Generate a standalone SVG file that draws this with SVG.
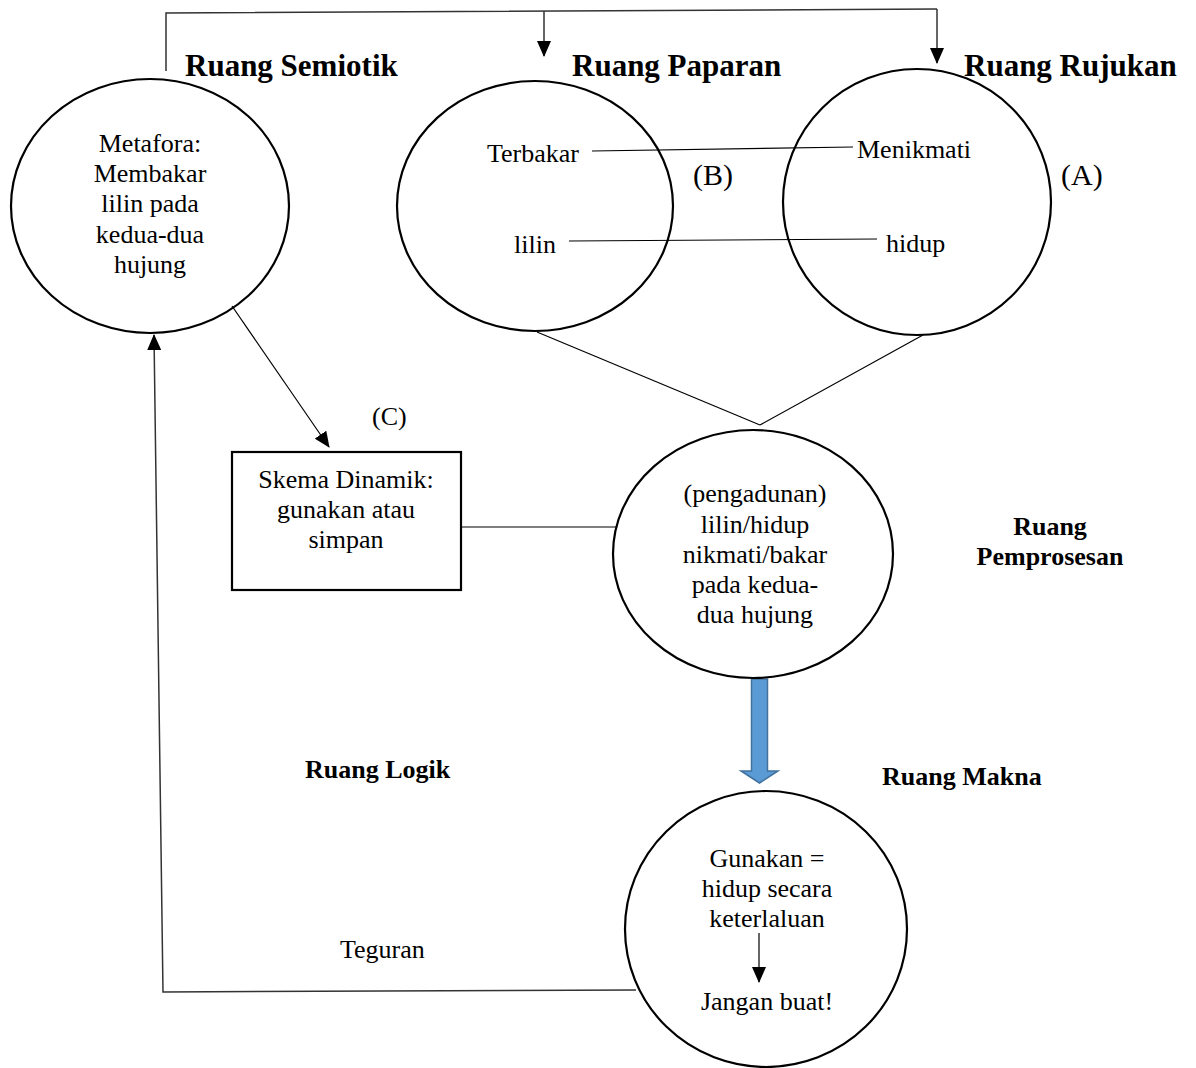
<svg xmlns="http://www.w3.org/2000/svg" width="1196" height="1068" viewBox="0 0 1196 1068">
<style>
.n{fill:none;stroke:#000;stroke-width:2.2}
.t{font-family:"Liberation Serif","Times New Roman",serif;font-size:26px;fill:#000}
.c{text-anchor:middle}
.h{font-family:"Liberation Serif","Times New Roman",serif;font-size:31px;font-weight:bold;fill:#000}
.b{font-family:"Liberation Serif","Times New Roman",serif;font-size:26px;font-weight:bold;fill:#000}
.l{fill:none;stroke:#000;stroke-width:1.2}
.g{fill:none;stroke:#333;stroke-width:1.5}
</style>
<defs>
<marker id="ah" markerWidth="16" markerHeight="14" refX="15" refY="7" orient="auto" markerUnits="userSpaceOnUse">
<path d="M0,0 L16,7 L0,14 Z" fill="#000"/>
</marker>
</defs>
<rect width="1196" height="1068" fill="#fff"/>
<g id="connectors">
<polyline class="g" points="166,71 166,13 937,9"/>
<line class="g" x1="544" y1="11" x2="544" y2="56" marker-end="url(#ah)"/>
<line class="g" x1="937" y1="9" x2="937" y2="63" marker-end="url(#ah)"/>
<line class="l" x1="592" y1="151" x2="853" y2="147"/>
<line class="l" x1="569" y1="241" x2="877" y2="239"/>
<line class="l" x1="537" y1="332" x2="760" y2="425"/>
<line class="l" x1="923" y1="335" x2="760" y2="425"/>
<line class="l" x1="232" y1="306" x2="329" y2="447" marker-end="url(#ah)"/>
<line class="l" x1="461" y1="527" x2="616" y2="527"/>
<polyline class="g" points="636,990 163,992 154,335" marker-end="url(#ah)"/>
<path d="M751.5,679 H767.5 V771 H778 L759.5,783 L741,771 H751.5 Z" fill="#5B9BD5" stroke="#41719C" stroke-width="1.5"/>
</g>
<g id="semiotik">
<ellipse class="n" cx="150" cy="206" rx="139" ry="127"/>
<text class="t c" x="150" y="152">Metafora:</text>
<text class="t c" x="150" y="182">Membakar</text>
<text class="t c" x="150" y="212">lilin pada</text>
<text class="t c" x="150" y="243">kedua-dua</text>
<text class="t c" x="150" y="273">hujung</text>
</g>
<g id="paparan">
<ellipse class="n" cx="535" cy="206" rx="138" ry="125"/>
<text class="t" x="487" y="162">Terbakar</text>
<text class="t" x="514" y="253">lilin</text>
</g>
<g id="rujukan">
<ellipse class="n" cx="917" cy="202" rx="134" ry="133"/>
<text class="t" x="857" y="158">Menikmati</text>
<text class="t" x="886" y="252">hidup</text>
</g>
<g id="skema">
<rect class="n" x="232" y="452" width="229" height="138"/>
<text class="t c" x="346" y="488">Skema Dinamik:</text>
<text class="t c" x="346" y="518">gunakan atau</text>
<text class="t c" x="346" y="548">simpan</text>
</g>
<g id="pemprosesan">
<ellipse class="n" cx="753" cy="554" rx="140" ry="124"/>
<text class="t c" x="755" y="502">(pengadunan)</text>
<text class="t c" x="755" y="533">lilin/hidup</text>
<text class="t c" x="755" y="563">nikmati/bakar</text>
<text class="t c" x="755" y="593">pada kedua-</text>
<text class="t c" x="755" y="623">dua hujung</text>
</g>
<g id="makna">
<ellipse class="n" cx="766" cy="929" rx="141" ry="138"/>
<text class="t c" x="767" y="867">Gunakan =</text>
<text class="t c" x="767" y="897">hidup secara</text>
<text class="t c" x="767" y="927">keterlaluan</text>
<line class="l" x1="759" y1="933" x2="759" y2="982" marker-end="url(#ah)"/>
<text class="t c" x="767" y="1010">Jangan buat!</text>
</g>
<g id="labels">
<text class="h" x="185" y="76">Ruang Semiotik</text>
<text class="h" x="572" y="76">Ruang Paparan</text>
<text class="h" x="964" y="76">Ruang Rujukan</text>
<text class="t" x="693" y="185" style="font-size:30px">(B)</text>
<text class="t" x="1061" y="185" style="font-size:30px">(A)</text>
<text class="t" x="372" y="425">(C)</text>
<text class="b c" x="1050" y="535">Ruang</text>
<text class="b c" x="1050" y="565">Pemprosesan</text>
<text class="b" x="305" y="778">Ruang Logik</text>
<text class="b" x="882" y="785">Ruang Makna</text>
<text class="t" x="340" y="958">Teguran</text>
</g>
</svg>
